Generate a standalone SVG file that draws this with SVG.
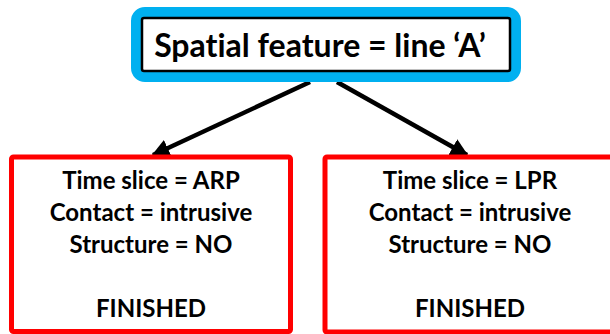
<svg xmlns="http://www.w3.org/2000/svg" width="610" height="334" viewBox="0 0 610 334">
<defs>
<marker id="ah" viewBox="0 0 10 10" refX="9" refY="5" markerWidth="4" markerHeight="4" markerUnits="strokeWidth" orient="auto">
<path d="M0,0 L10,5 L0,10 Z" fill="#000"/>
</marker>
</defs>
<style>
text{font-family:Lato,"Open Sans","Liberation Sans",sans-serif;font-weight:bold;fill:#000;text-anchor:middle;font-variant-ligatures:none}
.t{font-size:32px}
.b{font-size:24px}
.red{fill:#fff;stroke:#ff0000;stroke-width:5}
.conn{stroke:#000;stroke-width:4.5;fill:none}
</style>
<rect width="610" height="334" fill="#fff"/>
<g id="connectors">
<line class="conn" x1="310" y1="82" x2="153" y2="155" marker-end="url(#ah)"/>
<line class="conn" x1="337" y1="82" x2="467" y2="155" marker-end="url(#ah)"/>
</g>
<g id="root">
<rect x="136" y="12" width="380" height="65" rx="9" fill="#fff" stroke="#00b0f0" stroke-width="10"/>
<rect x="142" y="18" width="368" height="53" rx="2" fill="#fff" stroke="#000" stroke-width="2.5"/>
<text class="t" x="320" y="57">Spatial feature = line ‘A’</text>
</g>
<g id="left">
<rect class="red" x="11.5" y="157" width="279" height="174.5" rx="2"/>
<text class="b" x="151" y="189">Time slice = ARP</text>
<text class="b" x="151" y="221">Contact = intrusive</text>
<text class="b" x="151" y="253">Structure = NO</text>
<text class="b" x="151" y="317">FINISHED</text>
</g>
<g id="right">
<rect class="red" x="325" y="157" width="290" height="175" rx="2"/>
<text class="b" x="470" y="189">Time slice = LPR</text>
<text class="b" x="470" y="221">Contact = intrusive</text>
<text class="b" x="470" y="253">Structure = NO</text>
<text class="b" x="470" y="317">FINISHED</text>
</g>
</svg>
